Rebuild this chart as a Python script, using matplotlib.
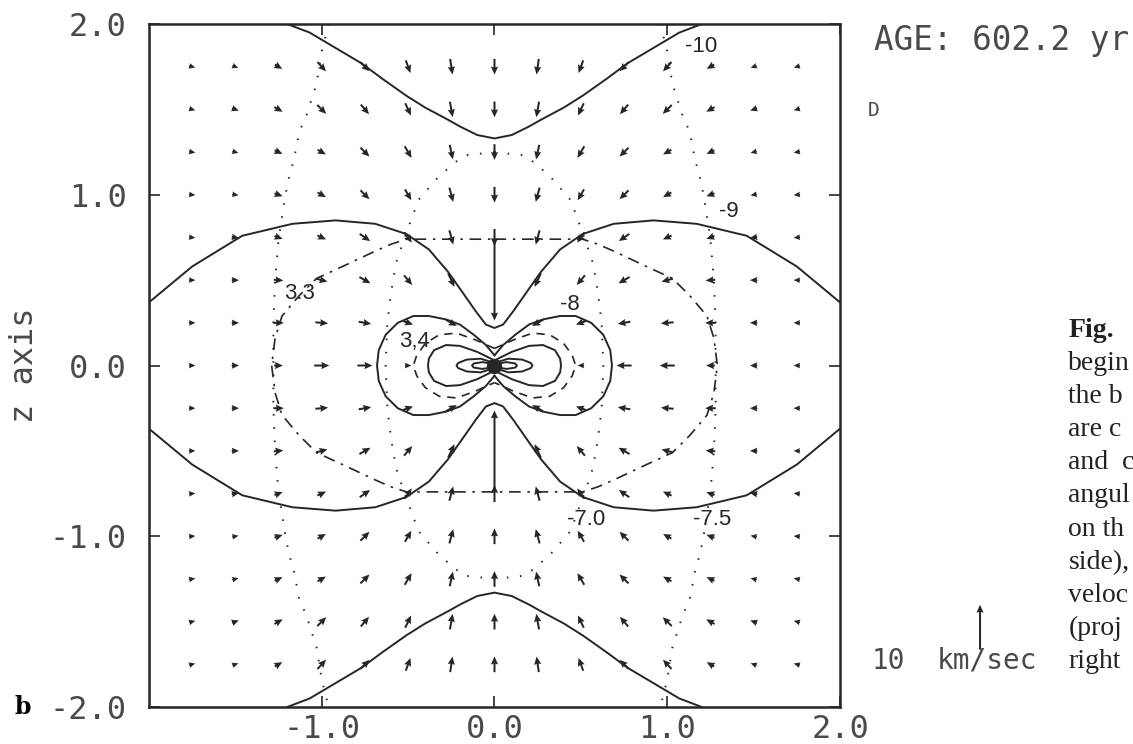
import numpy as np
import matplotlib
matplotlib.use("Agg")
import matplotlib.pyplot as plt

# velocity grid, first quadrant (x >= 0, z >= 0), rows z = 0 .. 1.75, cols x = 0 .. 1.75
grid_x = [0.0, 0.25, 0.5, 0.75, 1.0, 1.25, 1.5, 1.75]
grid_z = [0.0, 0.25, 0.5, 0.75, 1.0, 1.25, 1.5, 1.75]
speed_kms = [
    [0.0, 0.0, 1.4, 3.3, 3.3, 1.9, 1.6, 1.4],
    [0.0, 2.8, 2.3, 2.8, 2.8, 2.3, 1.6, 1.4],
    [18.0, 3.3, 2.8, 2.8, 2.6, 2.1, 1.6, 1.4],
    [3.8, 3.3, 2.8, 2.8, 2.1, 1.9, 1.6, 1.4],
    [3.5, 3.3, 2.8, 2.8, 2.1, 1.9, 1.4, 1.4],
    [3.5, 3.3, 3.0, 2.8, 2.1, 1.9, 1.4, 1.4],
    [3.5, 3.5, 3.0, 2.8, 2.8, 2.1, 1.6, 1.4],
    [3.5, 3.5, 3.0, 2.8, 2.8, 1.9, 1.4, 1.4],
]
# direction: degrees below horizontal, pointing towards the axis
angle_deg = [
    [90, 0, 0, 0, 0, 0, 0, 0],
    [90, 30, 20, 10, 5, 0, 0, 0],
    [90, 65, 50, 30, 15, 5, 0, 0],
    [90, 75, 55, 35, 25, 20, 10, 5],
    [90, 75, 60, 45, 30, 20, 10, 5],
    [90, 78, 60, 45, 30, 25, 15, 10],
    [90, 80, 65, 50, 45, 30, 20, 15],
    [90, 82, 70, 45, 48, 30, 20, 15],
]

# contour curves (first quadrant, mirrored below)
c10 = [(0.0, 1.33), (0.1, 1.35), (0.2, 1.40), (0.27, 1.44), (0.4, 1.51), (0.51, 1.58),
       (0.65, 1.68), (0.77, 1.77), (0.92, 1.86), (1.07, 1.95), (1.2, 2.0)]
c9 = [(0.0, 0.22), (0.05, 0.24), (0.11, 0.32), (0.2, 0.45), (0.27, 0.55), (0.38, 0.68),
      (0.51, 0.77), (0.69, 0.83), (0.92, 0.85), (1.17, 0.83), (1.46, 0.76), (1.75, 0.58),
      (2.0, 0.37)]
c8 = [(0.0, 0.06), (0.05, 0.12), (0.12, 0.18), (0.2, 0.24), (0.28, 0.27), (0.38, 0.29),
      (0.47, 0.29), (0.56, 0.25), (0.63, 0.18), (0.67, 0.09), (0.68, 0.0)]
c7 = [(0.0, 0.03), (0.1, 0.08), (0.2, 0.115), (0.28, 0.12), (0.35, 0.09), (0.38, 0.04), (0.385, 0.0)]
c6 = [(0.0, 0.015), (0.08, 0.04), (0.16, 0.035), (0.21, 0.015), (0.22, 0.0)]
c5 = [(0.0, 0.008), (0.07, 0.02), (0.12, 0.012), (0.13, 0.0)]
t34 = [(0.0, 0.1), (0.11, 0.15), (0.22, 0.19), (0.32, 0.18), (0.4, 0.13), (0.45, 0.06), (0.47, 0.0)]
t33 = [(0.0, 0.74), (0.25, 0.74), (0.51, 0.74), (0.6, 0.71), (0.69, 0.67), (0.88, 0.58),
       (1.03, 0.51), (1.13, 0.41), (1.23, 0.29), (1.27, 0.16), (1.29, 0.0)]
dot_in = [(0.0, 1.25), (0.18, 1.23), (0.32, 1.11), (0.44, 0.97), (0.48, 0.86), (0.53, 0.72),
          (0.57, 0.6), (0.6, 0.42), (0.62, 0.25), (0.63, 0.0)]
dot_out = [(0.96, 2.0), (1.0, 1.84), (1.03, 1.65), (1.09, 1.46), (1.13, 1.37), (1.16, 1.21),
           (1.19, 1.1), (1.21, 1.0), (1.25, 0.74), (1.27, 0.5), (1.28, 0.25), (1.28, 0.0)]

labels = ["-10", "-9", "-8", "-7.0", "-7.5", "3.3", "3,4"]
label_x = [1.1, 1.3, 0.38, 0.42, 1.15, -1.22, -0.55]
label_z = [1.87, 0.9, 0.36, -0.9, -0.9, 0.42, 0.14]

# visible part of the caption beside the figure
caption = ["Fig.", "begin", "the b", "are c", "and  c", "angul", "on th", "side),",
           "veloc", "(proj", "right"]


def upper_curve(q):
    # mirror a first-quadrant curve to x < 0
    left = [(-x, z) for x, z in reversed(q)]
    return np.array(left + list(q))


def lobe(q):
    # right lobe: upper quarter then lower quarter
    low = [(x, -z) for x, z in reversed(q)]
    return np.array(list(q) + low)


def closed(q):
    right = lobe(q)
    left = np.column_stack([-right[::-1, 0], right[::-1, 1]])
    return np.vstack([right, left])


ink = "#262626"
grey = "#4a4a4a"
mono = "DejaVu Sans Mono"
fig = plt.figure(figsize=(11.33, 7.44), dpi=100)
ax = fig.add_axes([0.1315, 0.0497, 0.6099, 0.918])

# velocity arrows
pts = {}
for k, z in enumerate(grid_z):
    for m, x in enumerate(grid_x):
        s = speed_kms[k][m]
        a = np.radians(angle_deg[k][m])
        for sx in (1, -1):
            for sz in (1, -1):
                pts[(sx * x, sz * z)] = (-sx * s * np.cos(a), -sz * s * np.sin(a))
X = np.array([p[0] for p in pts])
Z = np.array([p[1] for p in pts])
U = np.array([v[0] for v in pts.values()])
V = np.array([v[1] for v in pts.values()])
keep = np.hypot(U, V) > 0
q = ax.quiver(X[keep], Z[keep], U[keep], V[keep], angles="xy", scale_units="xy", scale=38,
              pivot="middle", color=ink, width=0.0029, headwidth=3.6, headlength=4,
              headaxislength=3.6)

solid = dict(color=ink, lw=1.4)
for sgn in (1, -1):
    c = upper_curve(c10)
    ax.plot(c[:, 0], sgn * c[:, 1], **solid)
    c = upper_curve(c9)
    ax.plot(c[:, 0], sgn * c[:, 1], **solid)
for curve in (c8, c7, c6, c5):
    r = lobe(curve)
    ax.plot(r[:, 0], r[:, 1], **solid)
    ax.plot(-r[:, 0], r[:, 1], **solid)
r = lobe(t34)
ax.plot(r[:, 0], r[:, 1], color=ink, lw=1.2, ls=(0, (5, 4)))
ax.plot(-r[:, 0], r[:, 1], color=ink, lw=1.2, ls=(0, (5, 4)))
c = closed(t33)
ax.plot(c[:, 0], c[:, 1], color=ink, lw=1.2, ls=(0, (7, 4, 1.5, 4)))
c = closed(dot_in)
ax.plot(c[:, 0], c[:, 1], color=ink, lw=1.4, ls=(0, (0.8, 6)))
r = lobe(dot_out)
for sx in (1, -1):
    ax.plot(sx * r[:, 0], r[:, 1], color=ink, lw=1.4, ls=(0, (0.8, 6)))
ax.plot([0], [0], "o", color=ink, ms=10)

for t, x, z in zip(labels, label_x, label_z):
    ax.text(x, z, t, fontsize=16, family="Liberation Sans", color=ink, va="center")

ax.set_xlim(-2, 2)
ax.set_ylim(-2, 2)
ax.set_xticks([-1, 0, 1, 2])
ax.set_xticklabels(["-1.0", "0.0", "1.0", "2.0"])
ax.set_yticks([-2, -1, 0, 1, 2])
ax.set_yticklabels(["-2.0", "-1.0", "0.0", "1.0", "2.0"])
ax.tick_params(direction="in", length=8, width=1.2, top=True, right=True, colors=ink,
               labelcolor=grey, labelsize=23)
ax.tick_params(axis="y", pad=16)
ax.tick_params(axis="x", pad=5)
for lab in ax.get_xticklabels() + ax.get_yticklabels():
    lab.set_family(mono)
for sp in ax.spines.values():
    sp.set_linewidth(1.8)
    sp.set_color(ink)
ax.set_ylabel("z axis", family=mono, fontsize=23, color=grey)
ax.yaxis.set_label_coords(-0.158, 0.5)

fig.text(0.771, 0.945, "AGE: 602.2 yr", family=mono, fontsize=23.5, color=grey, va="center")
fig.text(0.766, 0.852, "D", family=mono, fontsize=14, color=grey, va="center")
fig.text(0.013, 0.05, "b", family="DejaVu Serif", fontsize=17, weight="bold", va="center")

# 10 km/sec reference arrow
ax.quiverkey(q, 0.865, 0.157, 10, "", angle=90, coordinates="figure", labelpos="S")
fig.text(0.769, 0.112, "10", family=mono, fontsize=20, color=grey, va="center")
fig.text(0.827, 0.112, "km/sec", family=mono, fontsize=20, color=grey, va="center")

for i, line in enumerate(caption):
    fig.text(0.943, 1 - (330 + 33.2 * i) / 744, line, family="Liberation Serif", fontsize=20,
             weight="bold" if i == 0 else "normal", va="center", ha="left", color="#222222")

fig.savefig("out.png", dpi=100)
